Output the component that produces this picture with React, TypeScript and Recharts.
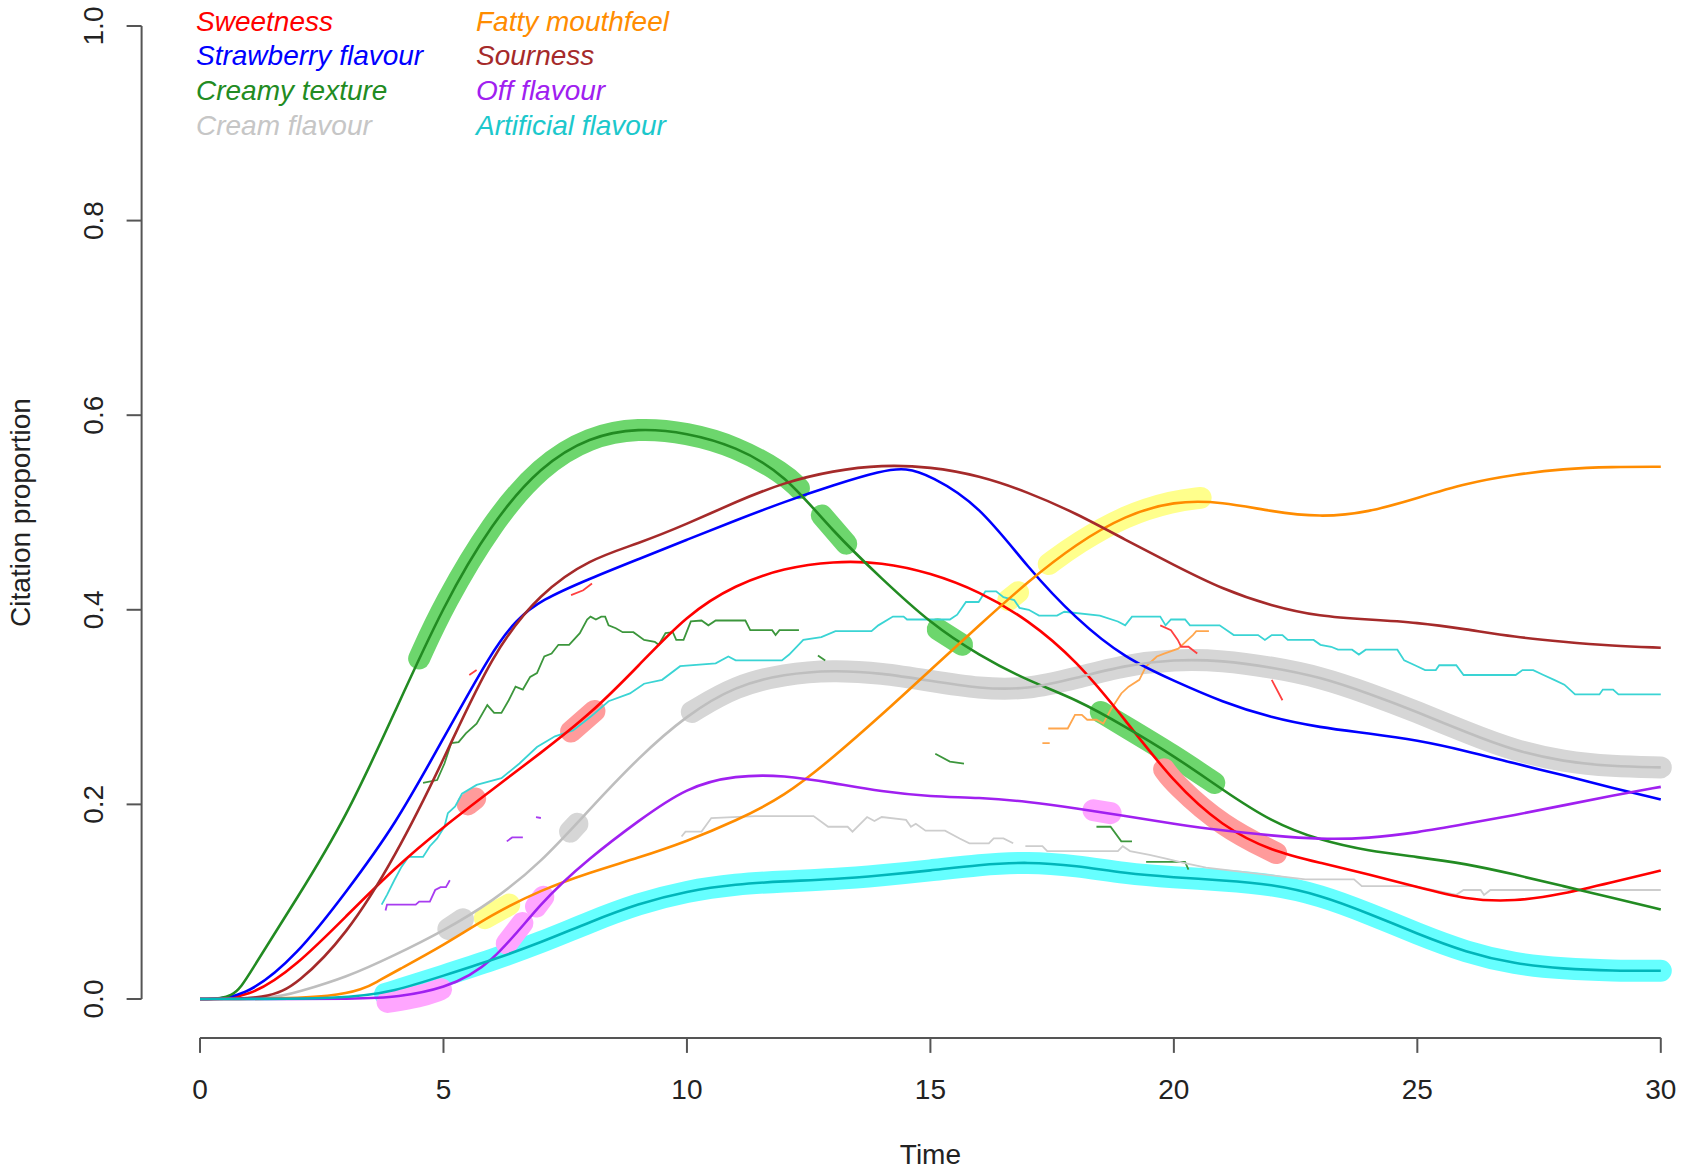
import { LineChart, Line, XAxis, YAxis, ReferenceLine, Legend } from "recharts";

type Pt = [number, number | null];

const FONT = '"Liberation Sans", Arial, Helvetica, sans-serif';
const X_DOMAIN: [number, number] = [-1.2, 30.6];
const Y_DOMAIN: [number, number] = [-0.04, 1.015];
const xTicks = [0, 5, 10, 15, 20, 25, 30];
const yTicks = [0, 0.2, 0.4, 0.6, 0.8, 1.0];

// smoothed citation proportions
const sweetness: Pt[] = [
  [0, 0], [1, 0], [2, 0.035], [3, 0.085], [4, 0.135], [5, 0.177], [6, 0.215], [7, 0.253],
  [8, 0.292], [9, 0.342], [10, 0.395], [11, 0.426], [12, 0.443], [13, 0.45], [14, 0.449],
  [15, 0.438], [16, 0.419], [17, 0.39], [18, 0.348], [19, 0.287], [20, 0.222], [21, 0.177],
  [22, 0.152], [23, 0.14], [24, 0.128], [25, 0.115], [26, 0.102], [27, 0.1], [28, 0.108],
  [29, 0.12], [30, 0.132],
];
const strawberry: Pt[] = [
  [0, 0], [0.9, 0], [2, 0.045], [3, 0.11], [4, 0.178], [5, 0.268], [6, 0.358], [6.5, 0.39],
  [7, 0.41], [8, 0.432], [9, 0.452], [10, 0.472], [11, 0.492], [12, 0.511], [13, 0.528],
  [14, 0.543], [14.5, 0.546], [15, 0.538], [16, 0.508], [17, 0.443], [18, 0.39], [19, 0.35],
  [20, 0.327], [21, 0.305], [22, 0.289], [23, 0.279], [24, 0.273], [25, 0.266], [26, 0.255],
  [27, 0.242], [28, 0.23], [29, 0.217], [30, 0.205],
];
const creamyTexture: Pt[] = [
  [0, 0], [0.7, 0], [1, 0.025], [2, 0.104], [3, 0.186], [4, 0.295], [5, 0.405], [6, 0.49],
  [7, 0.548], [8, 0.578], [9, 0.587], [10, 0.582], [11, 0.568], [12, 0.54], [13, 0.48],
  [14, 0.432], [15, 0.386], [16, 0.353], [17, 0.327], [18, 0.308], [19, 0.28], [20, 0.25],
  [21, 0.215], [22, 0.182], [23, 0.163], [24, 0.152], [25, 0.146], [26, 0.139], [27, 0.128],
  [28, 0.116], [29, 0.104], [30, 0.092],
];
const creamFlavour: Pt[] = [
  [0, 0], [1.5, 0], [2, 0.007], [3, 0.022], [4, 0.045], [5, 0.07], [6, 0.1], [7, 0.14],
  [8, 0.195], [9, 0.248], [10, 0.292], [11, 0.322], [12, 0.334], [13, 0.338], [14, 0.335],
  [15, 0.327], [16, 0.319], [17, 0.318], [18, 0.33], [19, 0.343], [20, 0.349], [21, 0.348],
  [22, 0.341], [23, 0.331], [24, 0.314], [25, 0.295], [26, 0.274], [27, 0.255], [28, 0.244],
  [29, 0.239], [30, 0.238],
];
const fattyMouthfeel: Pt[] = [
  [0, 0], [3, 0], [3.7, 0.0195], [4, 0.028], [5, 0.055], [6, 0.087], [7, 0.112], [8, 0.13],
  [9, 0.145], [10, 0.162], [11, 0.183], [12, 0.208], [13, 0.248], [14, 0.292], [15, 0.338],
  [16, 0.384], [17, 0.429], [18, 0.468], [19, 0.497], [20, 0.512], [21, 0.511], [22, 0.501],
  [23, 0.495], [24, 0.5], [25, 0.515], [26, 0.53], [27, 0.539], [28, 0.545], [29, 0.547],
  [30, 0.547],
];
const sourness: Pt[] = [
  [0, 0], [1.4, 0], [2, 0.015], [3, 0.065], [4, 0.145], [5, 0.245], [6, 0.356], [7, 0.418],
  [8, 0.452], [9, 0.468], [10, 0.488], [11, 0.511], [12, 0.531], [13, 0.543], [14, 0.549],
  [15, 0.547], [16, 0.538], [17, 0.521], [18, 0.499], [19, 0.472], [20, 0.446], [21, 0.421],
  [22, 0.404], [23, 0.393], [24, 0.39], [25, 0.387], [26, 0.38], [27, 0.372], [28, 0.367],
  [29, 0.363], [30, 0.361],
];
const offFlavour: Pt[] = [
  [0, 0], [3.5, 0], [4, 0.002], [5, 0.01], [6, 0.035], [7, 0.1], [8, 0.145], [9, 0.183],
  [10, 0.218], [11, 0.23], [12, 0.23], [13, 0.222], [14, 0.213], [15, 0.208], [16, 0.207],
  [17, 0.203], [18, 0.196], [19, 0.188], [20, 0.18], [21, 0.173], [22, 0.168], [23, 0.164],
  [24, 0.165], [25, 0.171], [26, 0.18], [27, 0.189], [28, 0.199], [29, 0.209], [30, 0.218],
];
const artificialFlavour: Pt[] = [
  [0, 0], [3, 0], [4, 0.008], [5, 0.024], [6, 0.04], [7, 0.058], [8, 0.079], [9, 0.098],
  [10, 0.111], [11, 0.118], [12, 0.121], [13, 0.123], [14, 0.127], [15, 0.132], [16, 0.138],
  [17, 0.141], [18, 0.137], [19, 0.129], [20, 0.125], [21, 0.122], [22, 0.118], [23, 0.107],
  [24, 0.088], [25, 0.067], [26, 0.048], [27, 0.036], [28, 0.031], [29, 0.029], [30, 0.029],
];

// raw (unsmoothed) proportions, only drawn where shown
const artificialRaw: Pt[] = [
  [3.73, 0.097], [3.84, 0.107], [3.99, 0.122], [4.14, 0.136], [4.28, 0.146], [4.58, 0.146],
  [4.72, 0.157], [4.87, 0.165], [5.02, 0.177], [5.09, 0.191], [5.24, 0.198], [5.38, 0.211],
  [5.68, 0.22], [6.19, 0.227], [6.56, 0.242], [6.92, 0.259], [7.29, 0.27], [7.66, 0.276],
  [8.02, 0.29], [8.39, 0.306], [8.83, 0.314], [9.12, 0.324], [9.49, 0.328], [9.86, 0.342],
  [10.59, 0.345], [10.85, 0.352], [11.0, 0.348], [11.95, 0.348], [12.1, 0.354], [12.39, 0.369],
  [12.76, 0.372], [13.05, 0.378], [13.79, 0.378], [13.93, 0.384], [14.23, 0.393], [14.45, 0.393],
  [14.52, 0.39], [15.4, 0.39], [15.55, 0.395], [15.73, 0.408], [15.99, 0.408], [16.13, 0.419],
  [16.35, 0.419], [16.5, 0.413], [16.72, 0.41], [16.83, 0.402], [17.02, 0.4], [17.23, 0.394],
  [17.6, 0.394], [17.75, 0.398], [18.48, 0.394], [18.85, 0.388], [19.0, 0.384], [19.14, 0.393],
  [19.72, 0.393], [19.83, 0.384], [19.94, 0.39], [20.23, 0.39], [20.33, 0.384], [20.94, 0.384],
  [21.23, 0.374], [21.73, 0.374], [21.87, 0.369], [22.01, 0.374], [22.23, 0.374], [22.34, 0.369],
  [22.87, 0.369], [23.01, 0.364], [23.23, 0.362], [23.37, 0.359], [23.66, 0.359], [23.8, 0.354],
  [23.94, 0.359], [24.59, 0.359], [24.73, 0.348], [24.95, 0.343], [25.16, 0.338], [25.38, 0.338],
  [25.45, 0.343], [25.8, 0.343], [25.95, 0.333], [27.02, 0.333], [27.16, 0.338], [27.38, 0.338],
  [27.59, 0.333], [27.81, 0.328], [28.02, 0.323], [28.24, 0.313], [28.74, 0.313], [28.81, 0.318],
  [29.02, 0.318], [29.13, 0.313], [30, 0.313],
];
const creamyRaw: Pt[] = [
  [4.58, 0.222], [4.87, 0.225], [5.02, 0.242], [5.16, 0.263], [5.31, 0.264], [5.46, 0.273],
  [5.68, 0.283], [5.9, 0.302], [6.04, 0.294], [6.19, 0.294], [6.34, 0.307], [6.48, 0.321],
  [6.63, 0.318], [6.78, 0.331], [6.92, 0.335], [7.07, 0.352], [7.22, 0.355], [7.36, 0.364],
  [7.58, 0.364], [7.8, 0.376], [7.95, 0.39], [8.02, 0.393], [8.13, 0.39], [8.24, 0.393],
  [8.32, 0.393], [8.39, 0.384], [8.54, 0.381], [8.68, 0.377], [8.9, 0.377], [9.12, 0.369],
  [9.34, 0.367], [9.42, 0.364], [9.56, 0.376], [9.71, 0.377], [9.78, 0.369], [9.93, 0.369],
  [10.08, 0.388], [10.3, 0.389], [10.44, 0.384], [10.59, 0.389], [11.2, 0.389], [11.3, 0.379],
  [11.75, 0.379], [11.82, 0.374], [11.9, 0.379], [12.3, 0.379], [12.35, null],
  [12.69, 0.353], [12.84, 0.348], [12.9, null],
  [15.1, 0.252], [15.4, 0.244], [15.69, 0.242], [15.8, null],
  [18.41, 0.177], [18.7, 0.177], [18.92, 0.162], [19.14, 0.162], [19.3, null],
  [19.43, 0.141], [20.23, 0.141], [20.3, 0.133],
];
const creamRaw: Pt[] = [
  [9.89, 0.167], [9.97, 0.172], [10.3, 0.172], [10.5, 0.186], [11.4, 0.188], [12.6, 0.188],
  [12.9, 0.177], [13.3, 0.177], [13.4, 0.172], [13.7, 0.187], [13.85, 0.183], [14.0, 0.187],
  [14.5, 0.184], [14.6, 0.177], [14.7, 0.18], [14.9, 0.173], [15.3, 0.173], [15.6, 0.165],
  [15.8, 0.16], [16.2, 0.16], [16.3, 0.165], [16.5, 0.165], [16.7, 0.16], [16.85, null],
  [16.95, 0.157], [17.3, 0.157], [17.4, 0.152], [17.6, 0.152], [18.85, 0.152], [18.95, 0.157],
  [19.1, 0.152], [19.5, 0.148], [19.86, 0.144], [20.2, 0.14], [20.66, 0.135], [22.7, 0.123],
  [23.7, 0.123], [23.86, 0.116], [24.95, 0.116], [25.8, 0.107], [25.95, 0.112], [26.3, 0.112],
  [26.37, 0.107], [26.5, 0.112], [30, 0.112],
];
const fattyRaw: Pt[] = [
  [17.3, 0.263], [17.45, 0.263], [17.5, null],
  [17.42, 0.278], [17.82, 0.278], [17.97, 0.292], [18.11, 0.292], [18.22, 0.287], [18.41, 0.287],
  [18.55, 0.283], [18.7, 0.297], [18.92, 0.314], [19.07, 0.321], [19.29, 0.328], [19.43, 0.342],
  [19.65, 0.352], [19.8, 0.355], [20.09, 0.36], [20.24, 0.367], [20.39, 0.374], [20.46, 0.378],
  [20.72, 0.378],
];
const sweetnessRaw: Pt[] = [
  [5.53, 0.333], [5.68, 0.338], [5.75, null],
  [7.62, 0.415], [7.87, 0.42], [8.05, 0.427], [8.1, null],
  [19.72, 0.384], [19.94, 0.379], [20.08, 0.369], [20.15, 0.362], [20.3, 0.362], [20.48, 0.355],
  [20.6, null], [22.01, 0.328], [22.23, 0.307],
];
const offRaw: Pt[] = [
  [3.81, 0.091], [3.84, 0.097], [4.43, 0.097], [4.5, 0.1], [4.72, 0.1], [4.83, 0.112],
  [4.94, 0.115], [5.05, 0.115], [5.13, 0.122], [5.2, null],
  [6.3, 0.162], [6.41, 0.166], [6.63, 0.166], [6.7, null], [6.9, 0.187], [7.0, 0.186],
];

// highlighted stretches of the smoothed curves
const greenHi: Pt[][] = [
  [[4.5, 0.35], [5, 0.405], [6, 0.49], [7, 0.548], [8, 0.578], [9, 0.587], [10, 0.582], [11, 0.568], [12, 0.54], [12.3, 0.525]],
  [[12.77, 0.497], [13.27, 0.468]],
  [[15.15, 0.38], [15.65, 0.364]],
  [[18.5, 0.295], [19, 0.28], [20, 0.25], [20.83, 0.222]],
];
const redHi: Pt[][] = [
  [[5.5, 0.2], [5.65, 0.206]],
  [[7.62, 0.275], [8.1, 0.296]],
  [[19.8, 0.236], [20, 0.222], [21, 0.177], [22.1, 0.15]],
];
const grayHi: Pt[][] = [
  [[5.1, 0.072], [5.4, 0.082]],
  [[7.6, 0.172], [7.75, 0.18]],
  [[10.1, 0.295], ...creamFlavour.filter(([t]) => t >= 11)],
];
const yellowHi: Pt[][] = [
  [[5.85, 0.083], [6.35, 0.097]],
  [[16.6, 0.41], [16.8, 0.418]],
  [[17.43, 0.447], [18, 0.468], [19, 0.497], [20, 0.512], [20.55, 0.515]],
];
const pinkHi: Pt[][] = [
  [[3.85, -0.003], [4.5, 0.002], [4.95, 0.01]],
  [[6.3, 0.057], [6.62, 0.078]],
  [[6.9, 0.095], [7.05, 0.105]],
  [[18.35, 0.194], [18.7, 0.191]],
];
const cyanHi: Pt[][] = [[[3.8, 0.005], ...artificialFlavour.filter(([t]) => t >= 4)]];

const SERIES = [
  { name: "Sweetness", color: "#ff0000", text: "#ff0000", pts: sweetness },
  { name: "Strawberry flavour", color: "#0000ff", text: "#0000ff", pts: strawberry },
  { name: "Creamy texture", color: "#228b22", text: "#228b22", pts: creamyTexture },
  { name: "Cream flavour", color: "#bebebe", text: "#c6c6c6", pts: creamFlavour },
  { name: "Fatty mouthfeel", color: "#ff8c00", text: "#ff8c00", pts: fattyMouthfeel },
  { name: "Sourness", color: "#a52a2a", text: "#a52a2a", pts: sourness },
  { name: "Off flavour", color: "#a020f0", text: "#a020f0", pts: offFlavour },
  { name: "Artificial flavour", color: "#00b6ba", text: "#1cc8cc", pts: artificialFlavour },
];

const RAWS = [
  { pts: artificialRaw, color: "#3ad4d4" },
  { pts: creamyRaw, color: "#3c963c" },
  { pts: creamRaw, color: "#cdcdcd" },
  { pts: fattyRaw, color: "#ffa64d" },
  { pts: sweetnessRaw, color: "#ff4040" },
  { pts: offRaw, color: "#a83cf0" },
];

const BANDS = [
  ...cyanHi.map((pts) => ({ pts, color: "#66ffff" })),
  ...grayHi.map((pts) => ({ pts, color: "#d6d6d6" })),
  ...greenHi.map((pts) => ({ pts, color: "#6dd66d" })),
  ...redHi.map((pts) => ({ pts, color: "#ff9b9b" })),
  ...yellowHi.map((pts) => ({ pts, color: "#ffff8c" })),
  ...pinkHi.map((pts) => ({ pts, color: "#ffa6ff" })),
];

const rows = (pts: Pt[]) => pts.map(([t, v]) => ({ t, v }));

function XTick({ x, y, payload }: any) {
  return (
    <text x={x} y={y + 44} textAnchor="middle" fill="#222" fontSize={28} fontFamily={FONT}>
      {payload.value}
    </text>
  );
}

function YTick({ x, y, payload }: any) {
  const bx = x - 21.6;
  return (
    <text x={bx} y={y} transform={`rotate(-90 ${bx} ${y})`} textAnchor="middle" fill="#222" fontSize={28} fontFamily={FONT}>
      {Number(payload.value).toFixed(1)}
    </text>
  );
}

function XTitle({ viewBox }: any) {
  const cx = viewBox.x + ((15 - X_DOMAIN[0]) / (X_DOMAIN[1] - X_DOMAIN[0])) * viewBox.width;
  return (
    <text x={cx} y={viewBox.y + 126} textAnchor="middle" fill="#222" fontSize={28} fontFamily={FONT}>
      Time
    </text>
  );
}

function YTitle({ viewBox }: any) {
  const cy = viewBox.y + ((Y_DOMAIN[1] - 0.5) / (Y_DOMAIN[1] - Y_DOMAIN[0])) * viewBox.height;
  const bx = 30;
  return (
    <text x={bx} y={cy} transform={`rotate(-90 ${bx} ${cy})`} textAnchor="middle" fill="#222" fontSize={28} fontFamily={FONT}>
      Citation proportion
    </text>
  );
}

function LegendBlock() {
  return (
    <div style={{ position: "relative", width: 720, height: 150, fontFamily: FONT, fontStyle: "italic", fontSize: 28 }}>
      {SERIES.map((s, i) => (
        <span
          key={s.name}
          style={{
            position: "absolute",
            left: i < 4 ? 196 : 476,
            top: 7.7 + (i % 4) * 34.6,
            lineHeight: "28px",
            whiteSpace: "nowrap",
            color: s.text,
          }}
        >
          {s.name}
        </span>
      ))}
    </div>
  );
}

export default function App() {
  return (
    <div style={{ position: "fixed", left: 0, top: 0, width: 1696, height: 1171, background: "#fff" }}>
      <LineChart width={1696} height={1171} margin={{ top: 11.4, right: 6, bottom: 8.1, left: 61.6 }}>
        <XAxis
          type="number"
          dataKey="t"
          domain={X_DOMAIN}
          ticks={xTicks}
          interval={0}
          allowDataOverflow
          axisLine={false}
          tickLine={{ stroke: "#555", strokeWidth: 2 }}
          tickSize={15}
          height={125}
          tick={<XTick />}
          label={XTitle}
        />
        <YAxis
          type="number"
          domain={Y_DOMAIN}
          ticks={yTicks}
          interval={0}
          allowDataOverflow
          axisLine={false}
          tickLine={{ stroke: "#555", strokeWidth: 2 }}
          tickSize={15}
          width={80}
          tick={<YTick />}
          label={YTitle}
        />
        <ReferenceLine
          segment={[{ x: 0, y: -0.04 }, { x: 30, y: -0.04 }]}
          stroke="#555"
          strokeWidth={2}
          ifOverflow="visible"
        />
        <ReferenceLine
          segment={[{ x: -1.2, y: 0 }, { x: -1.2, y: 1 }]}
          stroke="#555"
          strokeWidth={2}
          ifOverflow="visible"
        />
        <Legend
          layout="vertical"
          align="center"
          verticalAlign="middle"
          wrapperStyle={{ left: 0, top: 0, width: 720, height: 150 }}
          content={<LegendBlock />}
        />
        {BANDS.map((b, i) => (
          <Line
            key={`band-${i}`}
            data={rows(b.pts)}
            dataKey="v"
            type="basis"
            stroke={b.color}
            strokeWidth={22}
            strokeLinecap="round"
            strokeLinejoin="round"
            dot={false}
            activeDot={false}
            legendType="none"
            isAnimationActive={false}
          />
        ))}
        {RAWS.map((r, i) => (
          <Line
            key={`raw-${i}`}
            data={rows(r.pts)}
            dataKey="v"
            type="linear"
            stroke={r.color}
            strokeWidth={1.8}
            dot={false}
            activeDot={false}
            legendType="none"
            isAnimationActive={false}
          />
        ))}
        {SERIES.map((s) => (
          <Line
            key={s.name}
            name={s.name}
            data={rows(s.pts)}
            dataKey="v"
            type="basis"
            stroke={s.color}
            strokeWidth={2.6}
            dot={false}
            activeDot={false}
            isAnimationActive={false}
          />
        ))}
      </LineChart>
    </div>
  );
}
